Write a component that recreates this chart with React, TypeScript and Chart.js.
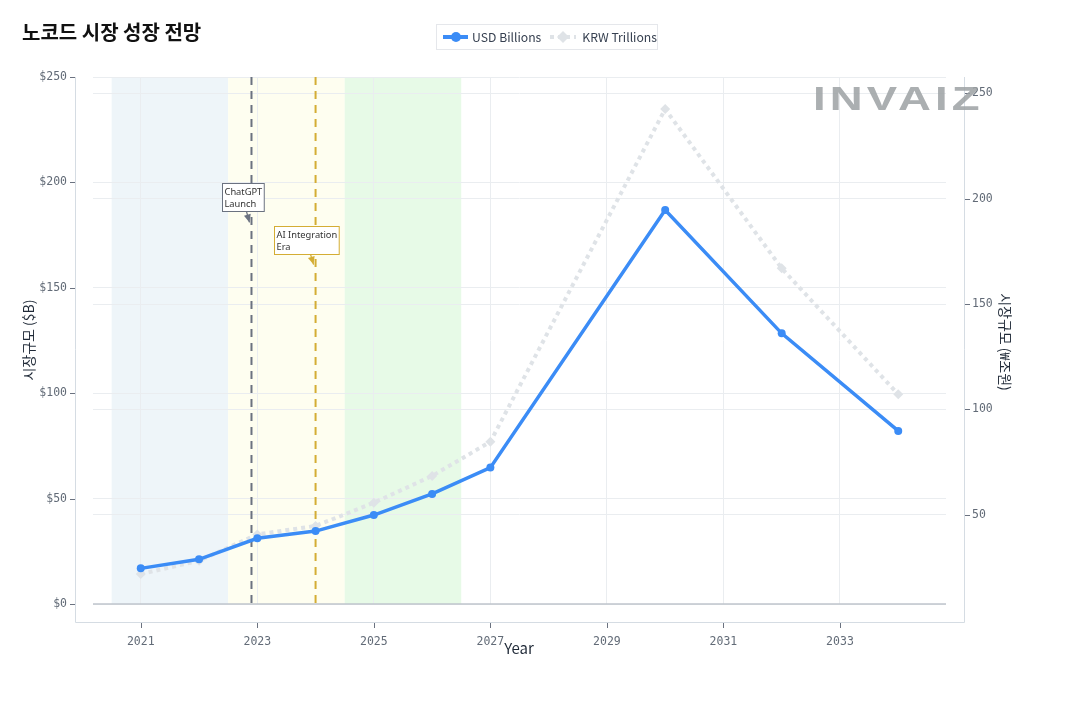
import { useEffect, useRef } from "react";
import { Chart, registerables } from "chart.js";
Chart.register(...registerables);

const years = [2021, 2022, 2023, 2024, 2025, 2026, 2027, 2030, 2032, 2034];
const usdBillions = [16.9, 21.2, 31.2, 34.6, 42.2, 52.2, 64.7, 186.9, 128.4, 82.1];
const krwTrillions = [22.0, 28.3, 40.8, 44.8, 55.8, 68.5, 84.7, 242.4, 166.9, 107.2];

const xTicks = [2021, 2023, 2025, 2027, 2029, 2031, 2033];
const usdTicks = [0, 50, 100, 150, 200, 250];
const krwTicks = [50, 100, 150, 200, 250];

const phaseStart = [2020.5, 2022.5, 2024.5];
const phaseEnd = [2022.5, 2024.5, 2026.5];
const phaseColors = ["#eef5f9", "#fefef0", "#e7fae7"];

const eventYears = [2022.9, 2024.0];
const eventTipUsd = [181, 161];
const eventLabels = [["ChatGPT", "Launch"], ["AI Integration", "Era"]];
const eventColors = ["#6b7280", "#d4ad34"];

const BLUE = "#3b8cf6";
const GREY = "#dfe3e7";
const TICK_FONT = { family: "'DejaVu Sans Mono', monospace", size: 11.5 };
const TICK_COLOR = "#626b77";

const overlay = {
  id: "overlay",
  beforeDraw(chart: any) {
    const { ctx, chartArea, scales } = chart;
    const x = scales.x, y = scales.y;
    ctx.save();
    phaseStart.forEach((s, i) => {
      const x0 = x.getPixelForValue(s), x1 = x.getPixelForValue(phaseEnd[i]);
      ctx.fillStyle = phaseColors[i];
      ctx.fillRect(x0, chartArea.top, x1 - x0, y.getPixelForValue(0) - chartArea.top);
    });
    ctx.restore();
  },
  beforeDatasetsDraw(chart: any) {
    const { ctx, chartArea, scales } = chart;
    const x = scales.x, y = scales.y;
    ctx.save();
    // zero line
    ctx.strokeStyle = "#bfc5cc";
    ctx.lineWidth = 1.5;
    ctx.beginPath();
    ctx.moveTo(chartArea.left, y.getPixelForValue(0));
    ctx.lineTo(chartArea.right, y.getPixelForValue(0));
    ctx.stroke();
    eventYears.forEach((ev, i) => {
      const px = x.getPixelForValue(ev);
      ctx.strokeStyle = eventColors[i];
      ctx.lineWidth = 2;
      ctx.setLineDash([8, 6]);
      ctx.beginPath();
      ctx.moveTo(px, chartArea.top);
      ctx.lineTo(px, y.getPixelForValue(0));
      ctx.stroke();
    });
    ctx.restore();
  },
  afterDatasetsDraw(chart: any) {
    const { ctx, scales } = chart;
    const x = scales.x, y = scales.y;
    ctx.save();
    ctx.font = "9.3px 'Noto Sans'";
    eventYears.forEach((ev, i) => {
      const tx = x.getPixelForValue(ev) - 2;
      const ty = y.getPixelForValue(eventTipUsd[i]);
      const lines = eventLabels[i];
      const w = Math.max(...lines.map((l) => ctx.measureText(l).width)) + 4;
      const h = lines.length * 12 + 4;
      const cx = tx - 7, cy = ty - 25;
      const bx = Math.round(cx - w / 2) + 0.5, by = Math.round(cy - h / 2) + 0.5;
      // arrow
      const sx = cx + 4, sy = by + h;
      ctx.strokeStyle = eventColors[i];
      ctx.fillStyle = eventColors[i];
      ctx.lineWidth = 1.2;
      ctx.beginPath();
      ctx.moveTo(sx, sy);
      ctx.lineTo(tx, ty);
      ctx.stroke();
      const ang = Math.atan2(ty - sy, tx - sx);
      ctx.beginPath();
      ctx.moveTo(tx, ty);
      ctx.lineTo(tx - 8 * Math.cos(ang) + 3.5 * Math.sin(ang), ty - 8 * Math.sin(ang) - 3.5 * Math.cos(ang));
      ctx.lineTo(tx - 8 * Math.cos(ang) - 3.5 * Math.sin(ang), ty - 8 * Math.sin(ang) + 3.5 * Math.cos(ang));
      ctx.closePath();
      ctx.fill();
      // box
      ctx.fillStyle = "#ffffff";
      ctx.fillRect(bx, by, w, h);
      ctx.strokeStyle = eventColors[i];
      ctx.lineWidth = 1;
      ctx.strokeRect(bx, by, w, h);
      ctx.fillStyle = "#333333";
      ctx.textAlign = "left";
      ctx.textBaseline = "middle";
      lines.forEach((l, j) => ctx.fillText(l, bx + 2, by + 2 + 12 * j + 6.5));
    });
    ctx.restore();
  },
  afterDraw(chart: any) {
    const { ctx, scales } = chart;
    const x = scales.x, y = scales.y, y2 = scales.y2;
    const L = 75, R = 964, B = 622, T = 77;
    ctx.save();
    ctx.strokeStyle = "#d5dce3";
    ctx.lineWidth = 1;
    ctx.beginPath();
    ctx.moveTo(L + 0.5, T);
    ctx.lineTo(L + 0.5, B + 0.5);
    ctx.lineTo(R + 0.5, B + 0.5);
    ctx.lineTo(R + 0.5, T);
    ctx.stroke();
    ctx.strokeStyle = "#6b7280";
    ctx.beginPath();
    usdTicks.forEach((v) => {
      const py = Math.round(y.getPixelForValue(v)) + 0.5;
      ctx.moveTo(L - 5, py);
      ctx.lineTo(L, py);
    });
    krwTicks.forEach((v) => {
      const py = Math.round(y2.getPixelForValue(v)) + 0.5;
      ctx.moveTo(R + 1, py);
      ctx.lineTo(R + 6, py);
    });
    xTicks.forEach((v) => {
      const px = Math.round(x.getPixelForValue(v)) + 0.5;
      ctx.moveTo(px, B + 1);
      ctx.lineTo(px, B + 6);
    });
    ctx.stroke();
    // axis titles
    ctx.fillStyle = "#1f2937";
    ctx.textAlign = "center";
    ctx.textBaseline = "middle";
    ctx.font = "14px 'Noto Sans CJK KR'";
    ctx.save();
    ctx.translate(29, 340);
    ctx.rotate(-Math.PI / 2);
    ctx.fillText("시장규모 ($B)", 0, 0);
    ctx.restore();
    ctx.save();
    ctx.translate(1005, 342);
    ctx.rotate(Math.PI / 2);
    ctx.fillText("시장규모 (₩조원)", 0, 0);
    ctx.restore();
    ctx.font = "15px 'Noto Sans CJK KR'";
    ctx.fillText("Year", 519, 648);
    ctx.restore();
  },
};

function LegendSymbol({ color, dotted, diamond }: { color: string; dotted?: boolean; diamond?: boolean }) {
  return (
    <svg width={28} height={14} style={{ display: "block" }}>
      <line x1={1} y1={7} x2={27} y2={7} stroke={color} strokeWidth={4} strokeDasharray={dotted ? "4 4" : undefined} />
      {diamond ? (
        <polygon points="14,1 20,7 14,13 8,7" fill={color} />
      ) : (
        <circle cx={14} cy={7} r={5} fill={color} />
      )}
    </svg>
  );
}

export default function App() {
  const ref = useRef<HTMLCanvasElement>(null);
  const chart = useRef<Chart | null>(null);

  useEffect(() => {
    if (!ref.current) return;
    if (chart.current) chart.current.destroy();

    chart.current = new Chart(ref.current, {
      type: "line",
      data: {
        datasets: [
          {
            label: "USD Billions",
            data: years.map((yr, i) => ({ x: yr, y: usdBillions[i] })),
            yAxisID: "y",
            borderColor: BLUE,
            backgroundColor: BLUE,
            borderWidth: 3.5,
            pointRadius: 4,
            pointBorderWidth: 0,
            pointStyle: "circle",
            tension: 0,
            order: 0,
          },
          {
            label: "KRW Trillions",
            data: years.map((yr, i) => ({ x: yr, y: krwTrillions[i] })),
            yAxisID: "y2",
            borderColor: GREY,
            backgroundColor: GREY,
            borderWidth: 4,
            borderDash: [4, 4],
            borderCapStyle: "butt",
            pointRadius: 5,
            pointBorderWidth: 0,
            pointStyle: "rectRot",
            tension: 0,
            order: 1,
          },
        ],
      },
      options: {
        responsive: true,
        maintainAspectRatio: false,
        animation: false,
        layout: { padding: { top: 77, left: 0, right: 0, bottom: 0 } },
        plugins: { legend: { display: false }, tooltip: { enabled: false } },
        scales: {
          x: {
            type: "linear",
            min: 2020.18,
            max: 2034.82,
            afterBuildTicks: (s: any) => { s.ticks = xTicks.map((v) => ({ value: v })); },
            afterFit: (s: any) => { s.height = 116; },
            grid: { color: "#eaedf0", drawTicks: false },
            border: { display: false },
            ticks: { font: TICK_FONT, color: TICK_COLOR, padding: 31, callback: (v: any) => String(v) },
          },
          y: {
            position: "left",
            min: 0,
            max: 250,
            afterBuildTicks: (s: any) => { s.ticks = usdTicks.map((v) => ({ value: v })); },
            afterFit: (s: any) => { s.width = 93; },
            grid: { color: "#eaedf0", drawTicks: false },
            border: { display: false },
            ticks: { font: TICK_FONT, color: TICK_COLOR, padding: 26, callback: (v: any) => "$" + v },
          },
          y2: {
            position: "right",
            min: 7.8,
            max: 257.6,
            afterBuildTicks: (s: any) => { s.ticks = krwTicks.map((v) => ({ value: v })); },
            afterFit: (s: any) => { s.width = 134; },
            grid: { color: "#eaedf0", drawTicks: false },
            border: { display: false },
            ticks: { font: TICK_FONT, color: TICK_COLOR, padding: 26 },
          },
        },
      },
      plugins: [overlay],
    });

    return () => chart.current?.destroy();
  }, []);

  return (
    <div style={{ position: "absolute", left: 0, top: 0, width: 1080, height: 720, background: "#fff" }}>
      <canvas ref={ref} />
      <div style={{ position: "absolute", left: 22, top: 20, fontFamily: "'Noto Sans CJK KR'", fontWeight: 700, fontSize: 20, lineHeight: "24px", color: "#111111", whiteSpace: "nowrap" }}>
        노코드 시장 성장 전망
      </div>
      <div
        style={{
          position: "absolute", left: 436, top: 24, width: 222, height: 26, boxSizing: "border-box",
          border: "1px solid #e5e7eb", background: "#fff", display: "flex", alignItems: "center",
          fontFamily: "'Noto Sans CJK KR'", fontSize: 12.2, lineHeight: "14px", color: "#374151", paddingLeft: 5, whiteSpace: "nowrap",
        }}
      >
        <LegendSymbol color={BLUE} />
        <span style={{ marginLeft: 4 }}>USD Billions</span>
        <span style={{ marginLeft: 8 }}><LegendSymbol color={GREY} dotted diamond /></span>
        <span style={{ marginLeft: 5 }}>KRW Trillions</span>
      </div>
      <div
        style={{
          position: "absolute", left: 813, top: 80, fontFamily: "'Liberation Sans'", fontWeight: 700, fontSize: 33,
          letterSpacing: 3, color: "#9da1a4", opacity: 0.85, transform: "scaleX(1.38)", transformOrigin: "left top",
          lineHeight: "38px", pointerEvents: "none", whiteSpace: "nowrap",
        }}
      >
        INVAIZ
      </div>
    </div>
  );
}
